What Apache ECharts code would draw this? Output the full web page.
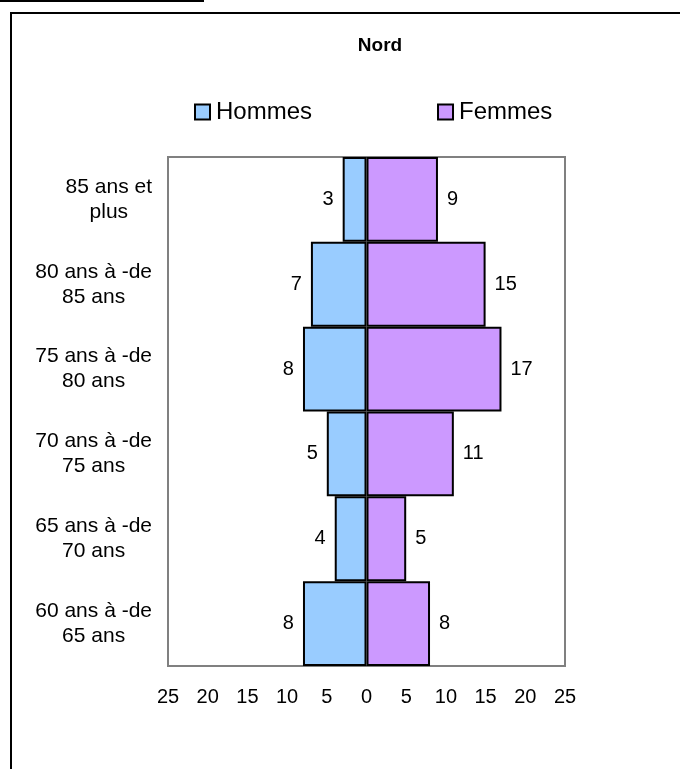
<!DOCTYPE html>
<html>
<head>
<meta charset="utf-8">
<script src="https://cdn.jsdelivr.net/npm/echarts@6/dist/echarts.min.js"></script>
<style>html,body{margin:0;padding:0;background:#fff}#c{width:680px;height:769px}</style>
</head>
<body>
<div id="c"></div>
<script>
const categories = ['60 ans à -de\n65 ans', '65 ans à -de\n70 ans', '70 ans à -de\n75 ans', '75 ans à -de\n80 ans', '80 ans à -de\n85 ans', '85 ans et\nplus'];
const hommes = [8, 4, 5, 8, 7, 3];
const femmes = [8, 5, 11, 17, 15, 9];
const seriesNames = ['Hommes', 'Femmes'];
const title = 'Nord';

const FONT = '"Liberation Sans", Arial, sans-serif';
const chart = echarts.init(document.getElementById('c'), null, {renderer: 'canvas'});
chart.setOption({
  backgroundColor: '#fff',
  animation: false,
  textStyle: {fontFamily: FONT, color: '#000'},
  title: {
    text: title, left: 380, top: 36, textAlign: 'center', padding: 0,
    textStyle: {fontFamily: FONT, fontSize: 19, fontWeight: 'bold', color: '#000'}
  },
  legend: {
    data: seriesNames, left: 194, top: 100, padding: 0, itemWidth: 15, itemHeight: 15, itemGap: 125,
    icon: 'rect',
    textStyle: {fontFamily: FONT, fontSize: 24, color: '#000', padding: [0, 0, 0, 1]}
  },
  grid: {left: 168, right: 115, top: 157, bottom: 103, show: true, borderColor: '#808080', borderWidth: 2, containLabel: false},
  xAxis: {
    type: 'value', min: -25, max: 25, interval: 5,
    axisLine: {show: false}, axisTick: {show: false}, splitLine: {show: false},
    axisLabel: {fontFamily: FONT, fontSize: 20, color: '#000', margin: 21, formatter: v => String(Math.abs(v))}
  },
  yAxis: {
    type: 'category', data: categories,
    axisLine: {show: false}, axisTick: {show: false}, splitLine: {show: false},
    axisLabel: {
      margin: 16, align: 'right', fontFamily: FONT, fontSize: 21, lineHeight: 25, color: '#000',
      formatter: v => v.split('\n').map(l => '{c|' + l + '}').join('\n'),
      rich: {c: {align: 'center', fontFamily: FONT, fontSize: 21, lineHeight: 25, color: '#000'}}
    }
  },
  series: [
    {
      name: seriesNames[0], type: 'bar', data: hommes.map(v => -v),
      barGap: '-100%', barCategoryGap: 0,
      itemStyle: {color: '#99CCFF', borderColor: '#000', borderWidth: 2},
      label: {show: true, position: 'left', distance: 9, fontFamily: FONT, fontSize: 20, color: '#000', formatter: p => String(Math.abs(p.value))}
    },
    {
      name: seriesNames[1], type: 'bar', data: femmes,
      barGap: '-100%', barCategoryGap: 0,
      itemStyle: {color: '#CC99FF', borderColor: '#000', borderWidth: 2},
      label: {show: true, position: 'right', distance: 9, fontFamily: FONT, fontSize: 20, color: '#000'}
    }
  ],
  graphic: [
    {type: 'line', shape: {x1: 0, y1: 1, x2: 204, y2: 1}, style: {stroke: '#000', lineWidth: 2}},
    {type: 'polyline', shape: {points: [[11, 769], [11, 13], [680, 13]]}, style: {stroke: '#000', lineWidth: 2, fill: null}}
  ]
});
</script>
</body>
</html>
